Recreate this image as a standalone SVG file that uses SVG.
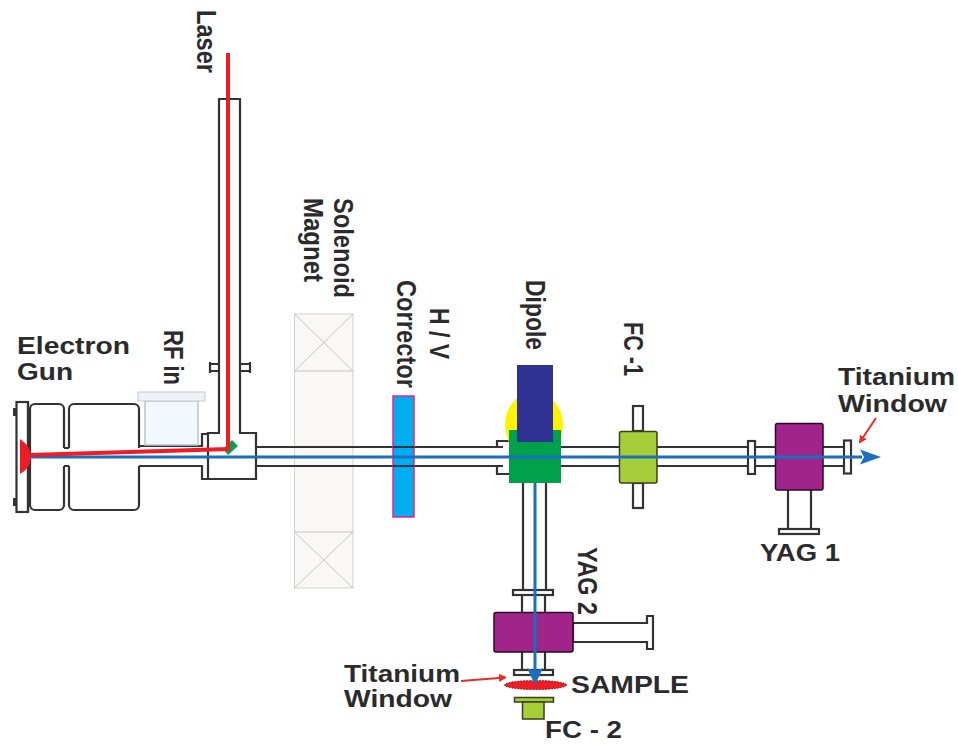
<svg xmlns="http://www.w3.org/2000/svg" width="958" height="744" viewBox="0 0 958 744">
<style>
.t{font-family:"Liberation Sans",Arial,sans-serif;font-weight:700;font-size:24px;fill:#2b2b2d}
.v{font-family:"Liberation Sans",Arial,sans-serif;font-weight:700;font-size:28px;fill:#2b2b2d}
.p{fill:#fff;stroke:#333335;stroke-width:2.200}
.l{fill:none;stroke:#333335;stroke-width:2.200}
.x{fill:none;stroke:#c4c4c2;stroke-width:1}
.blue{fill:none;stroke:#1b6fc0;stroke-width:3}
.red{fill:none;stroke:#ee1c25;stroke-width:4}
.ra{fill:none;stroke:#ee2a24;stroke-width:2}
</style>
<defs>
<marker id="rh" markerWidth="10" markerHeight="10" refX="6" refY="4" orient="auto" markerUnits="userSpaceOnUse"><path d="M0 0L8 4L0 8Z" fill="#ee2a24"/></marker>
</defs>
<rect width="958" height="744" fill="#fff"/>
<g id="solenoid-magnet">
<rect x="294.500" y="314" width="58.500" height="274" fill="#f9f8f6" stroke="#d2d2d0"/>
<path class="x" d="M294.500 371H353L294.500 314M353 314L294.500 371M294.500 532H353L294.500 588M294.500 532L353 588"/>
<text class="v" transform="translate(334,198) rotate(90)" textLength="100" lengthAdjust="spacingAndGlyphs">Solenoid</text>
<text class="v" transform="translate(304,198) rotate(90)" textLength="84" lengthAdjust="spacingAndGlyphs">Magnet</text>
</g>
<g id="connectors">
<path class="l" d="M256 447H500M256 466H500M561 447H619M561 466H619M657 447H748M657 466H748M755 447H775M755 466H775M823 447H844M823 466H844"/>
<path class="l" d="M523 483V590M546 483V590M522 595V612M545 595V612M522 652V670M545 652V670"/>
</g>
<g id="electron-gun">
<rect class="p" x="16.500" y="402" width="11.500" height="110"/>
<path d="M13 408h3v8h-3zM13 498h3v8h-3z" fill="#333"/>
<path class="l" stroke-width="3" d="M28 402V512"/>
<path class="l" d="M64 448V409a5 5 0 0 0-5-5H35a5 5 0 0 0-5 5V505a5 5 0 0 0 5 5H59a5 5 0 0 0 5-5V466M69 448V409a5 5 0 0 1 5-5H134a5 5 0 0 1 5 5V448M69 466V505a5 5 0 0 0 5 5H134a5 5 0 0 0 5-5V466M64 448h5M64 466h5"/>
<path d="M20 439Q31 446 31 457Q31 468 20 474Z" fill="#ee1c25"/>
<path class="l" d="M139 446H202V434H208M139 466H202V479H208"/>
<text class="t" x="17" y="354" textLength="113" lengthAdjust="spacingAndGlyphs">Electron</text>
<text class="t" x="17" y="380" textLength="56" lengthAdjust="spacingAndGlyphs">Gun</text>
</g>
<g id="rf-in">
<rect x="145" y="401" width="53" height="44" fill="#f3f8fc" stroke="#bcc3c9" stroke-width="1.500"/>
<rect x="138" y="392" width="67" height="9" fill="#eef2f6" stroke="#c4cad0" stroke-width="1"/>
<text class="v" transform="translate(164,330) rotate(90)" textLength="55" lengthAdjust="spacingAndGlyphs">RF in</text>
</g>
<g id="laser-chamber">
<path class="p" d="M219 99H240V433H256V479H208V433H219Z"/>
<path class="l" d="M210 362V373M210 364H219M210 371H219M250 362V373M240 364H250M240 371H250"/>
<path d="M223 449L232 440L238 446L228 455Z" fill="#0aa04f"/>
<text class="v" transform="translate(197,10) rotate(90)" textLength="63" lengthAdjust="spacingAndGlyphs">Laser</text>
</g>
<g id="hv-corrector">
<rect x="393" y="396" width="21" height="121" fill="#00aeef" stroke="#e6228e" stroke-width="1.500"/>
<path d="M393 447H414M393 466H414" stroke="#23343c" stroke-width="2"/>
<text class="v" transform="translate(430,308) rotate(90)" textLength="51" lengthAdjust="spacingAndGlyphs">H / V</text>
<text class="v" transform="translate(397,280) rotate(90)" textLength="108" lengthAdjust="spacingAndGlyphs">Corrector</text>
</g>
<g id="dipole">
<path class="l" d="M509 441H497V447M497 447H503M497 466V474H509M497 466H503"/>
<ellipse cx="534" cy="425" rx="29" ry="33" fill="#fff200"/>
<rect x="509" y="430" width="52" height="53" fill="#00a14b"/>
<rect x="517" y="365" width="36" height="77" fill="#2e3192"/>
<text class="v" transform="translate(526,280) rotate(90)" textLength="70" lengthAdjust="spacingAndGlyphs">Dipole</text>
</g>
<g id="fc-1">
<rect class="p" x="633" y="406" width="10" height="25"/>
<rect class="p" x="633" y="483" width="10" height="25"/>
<rect x="619.500" y="431.500" width="37.500" height="51.500" rx="2" fill="#a6ce39" stroke="#39401c" stroke-width="1.500"/>
<text class="v" transform="translate(624,322) rotate(90)" textLength="54" lengthAdjust="spacingAndGlyphs">FC -1</text>
</g>
<g id="yag-1">
<rect class="p" x="748" y="441" width="7" height="33"/>
<path class="l" d="M788 490V529M811 490V529"/>
<rect class="p" x="779" y="529" width="40" height="5"/>
<rect x="775.500" y="423.500" width="47.500" height="66.500" rx="2" fill="#a1248b" stroke="#2a0a26" stroke-width="1.500"/>
<text class="t" x="760" y="561" textLength="80" lengthAdjust="spacingAndGlyphs">YAG 1</text>
</g>
<g id="titanium-window-1">
<rect class="p" x="844" y="440.500" width="7" height="33"/>
<text class="t" x="838" y="385" textLength="117" lengthAdjust="spacingAndGlyphs">Titanium</text>
<text class="t" x="838" y="412" textLength="109" lengthAdjust="spacingAndGlyphs">Window</text>
<path class="ra" d="M876 418L860 442" marker-end="url(#rh)"/>
</g>
<g id="yag-2">
<rect class="p" x="513" y="590" width="40" height="5"/>
<path class="p" d="M573 623H647V616H653V649H647V642H573Z"/>
<rect x="494" y="612.500" width="79" height="39.500" rx="2" fill="#a1248b" stroke="#2a0a26" stroke-width="1.500"/>
<text class="v" transform="translate(578,547) rotate(90)" textLength="68" lengthAdjust="spacingAndGlyphs">YAG 2</text>
</g>
<g id="titanium-window-2">
<rect class="p" x="514" y="670" width="39" height="5"/>
<text class="t" x="344" y="682" textLength="116" lengthAdjust="spacingAndGlyphs">Titanium</text>
<text class="t" x="344" y="707" textLength="108" lengthAdjust="spacingAndGlyphs">Window</text>
<path class="ra" d="M461 681L505 677.500" marker-end="url(#rh)"/>
</g>
<g id="sample">
<ellipse cx="535.500" cy="685" rx="31" ry="4.500" fill="#ee1c25" stroke="#7a1014" stroke-width="1" stroke-dasharray="1.500 1.500"/>
<text class="t" x="571" y="693" textLength="118" lengthAdjust="spacingAndGlyphs">SAMPLE</text>
</g>
<g id="fc-2">
<rect x="514.500" y="697.500" width="39" height="4.500" fill="#a6ce39" stroke="#39401c" stroke-width="1.500"/>
<rect x="522.500" y="702" width="21.500" height="17" fill="#a6ce39" stroke="#39401c" stroke-width="1.500"/>
<text class="t" x="545" y="738" textLength="77" lengthAdjust="spacingAndGlyphs">FC - 2</text>
</g>
<g id="beams">
<path class="blue" d="M30 457H862M535 483V672"/>
<path d="M860 449.500L881 457L860 464.500L864 457Z" fill="#1b6fc0"/>
<path d="M527 668L535 671L543 668L535 685Z" fill="#1b6fc0"/>
<path class="red" d="M228 53V449L30 455"/>
</g>
</svg>
